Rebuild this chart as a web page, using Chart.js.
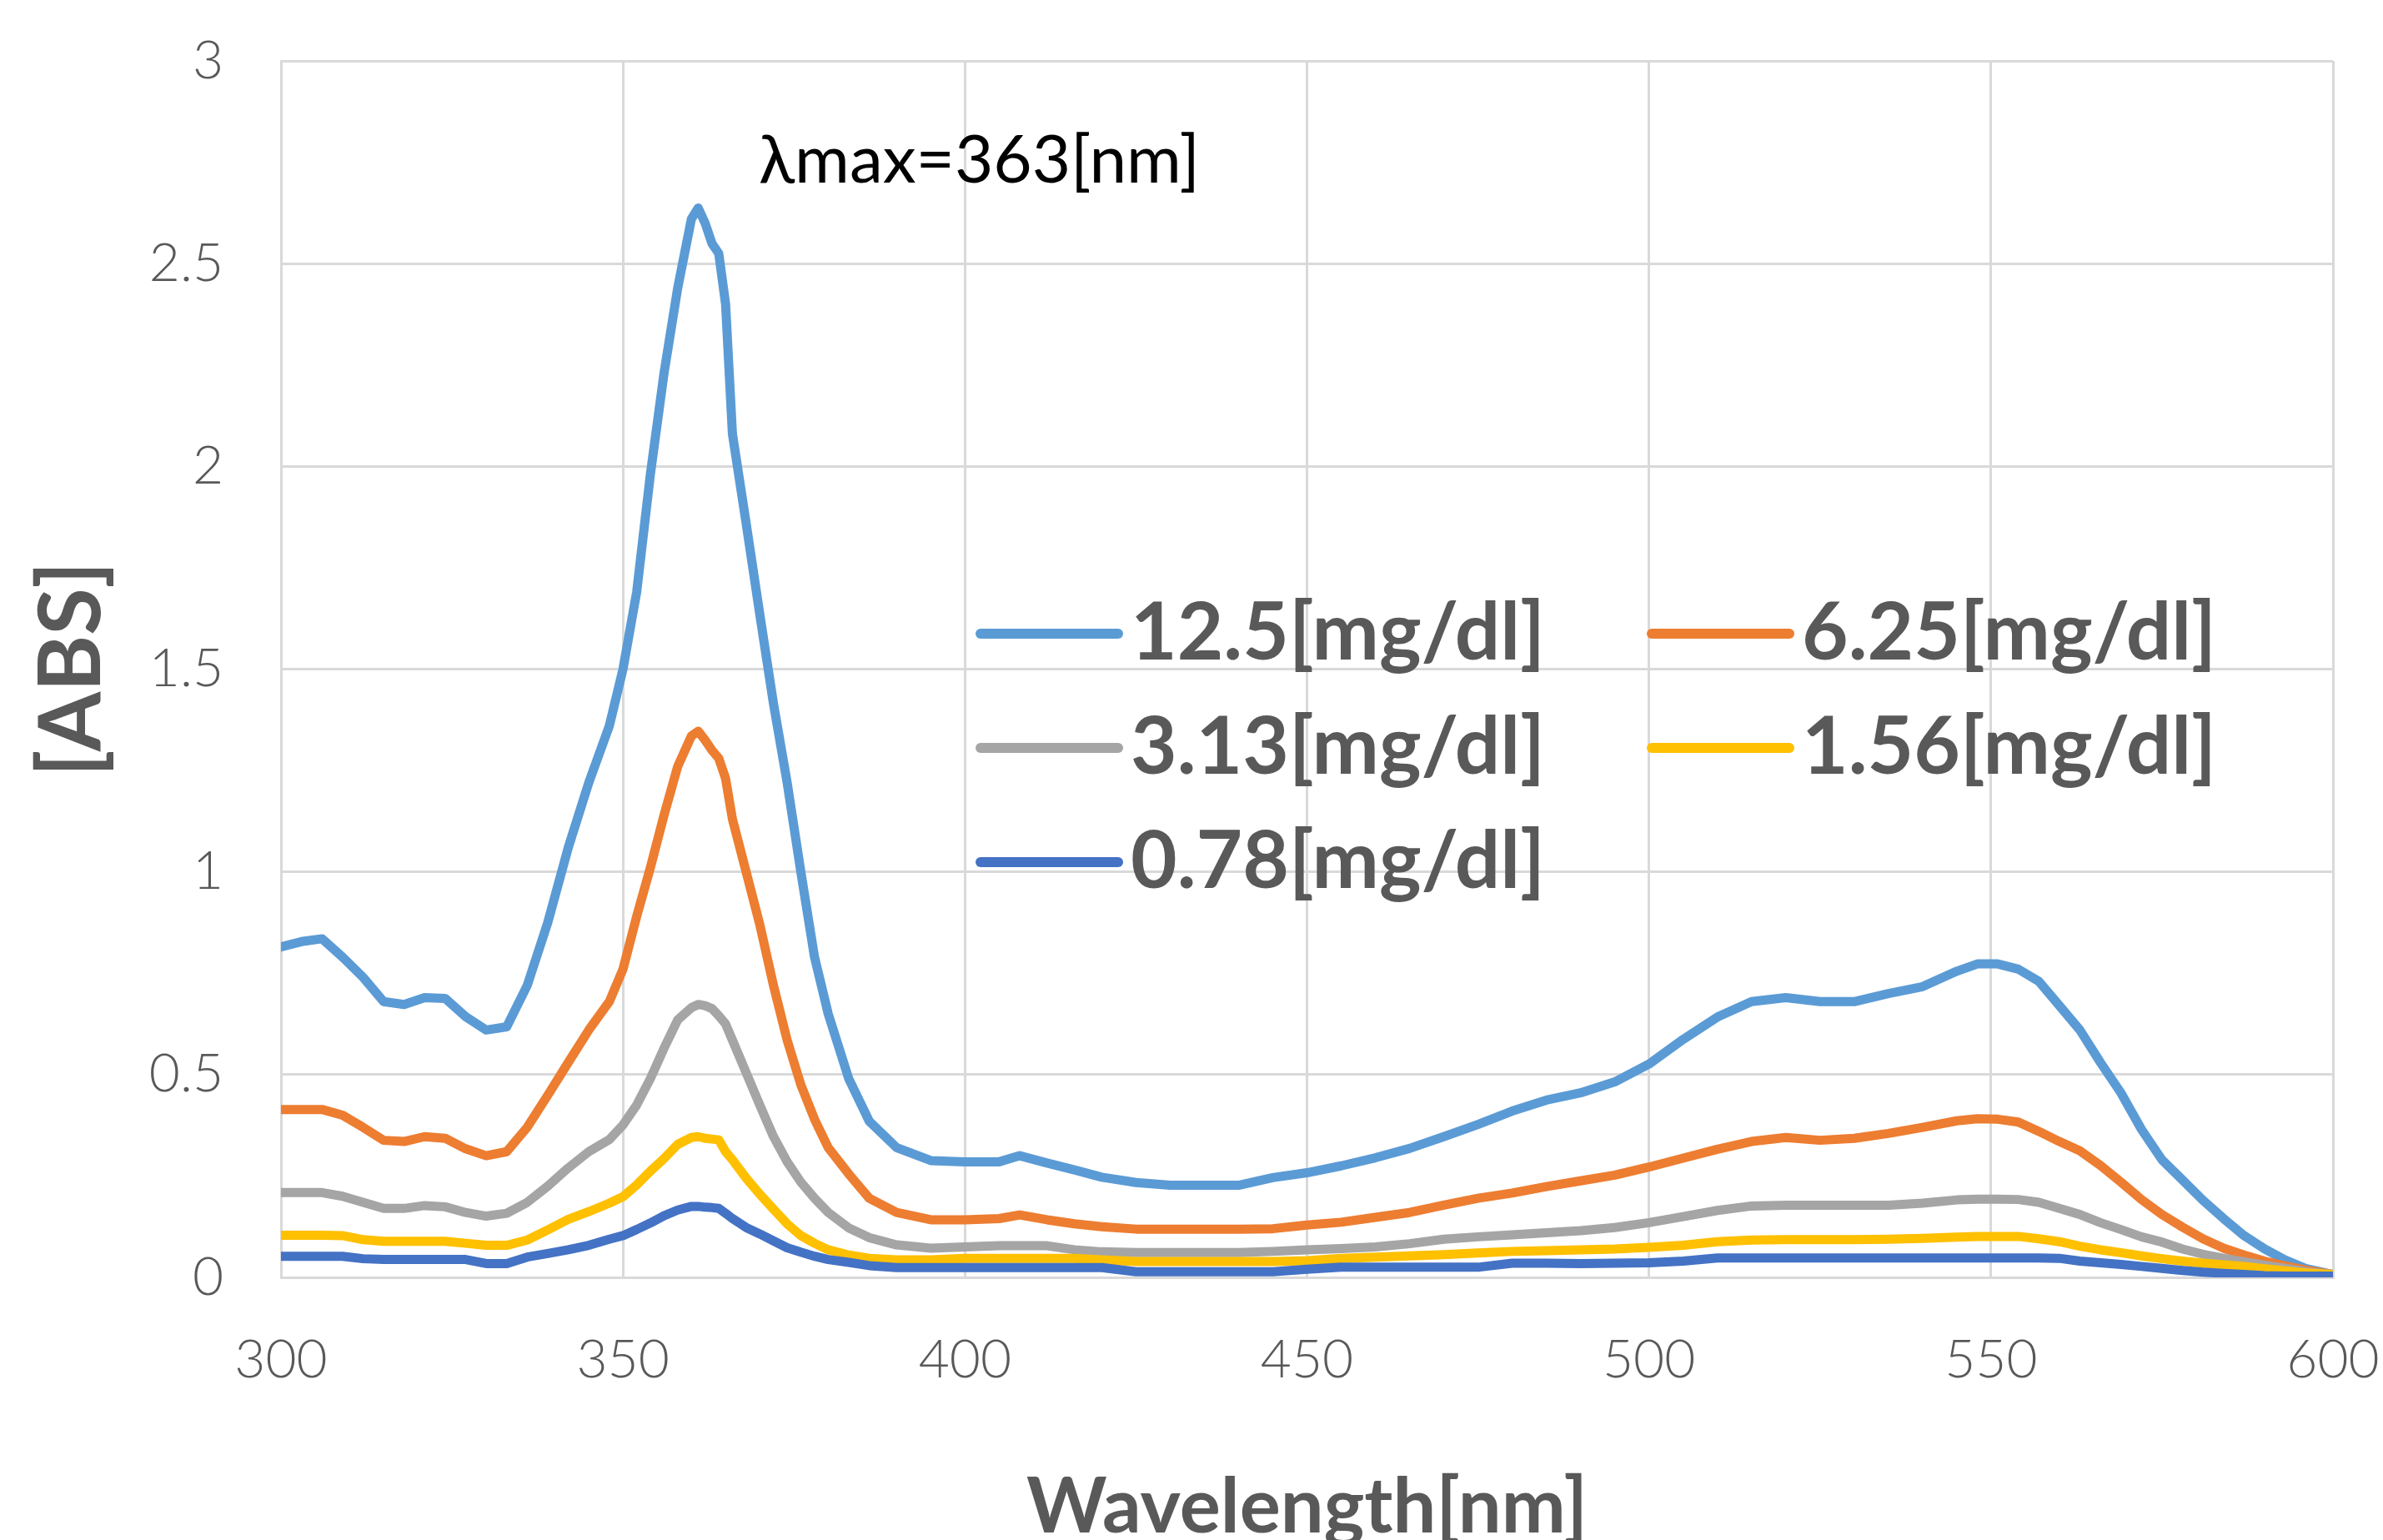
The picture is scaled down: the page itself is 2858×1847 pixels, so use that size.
<!DOCTYPE html>
<html>
<head>
<meta charset="utf-8">
<title>Absorption spectra</title>
<script src="https://cdn.jsdelivr.net/npm/chart.js@4.4.1/dist/chart.umd.min.js"></script>
<style>
  html, body { margin: 0; padding: 0; background: #fff; }
  #wrap { width: 2858px; height: 1847px; }
</style>
</head>
<body>
<div id="wrap"><canvas id="absChart" width="2858" height="1847"></canvas></div>
<script>
// wavelength [nm]
const wavelengths = [300, 303, 306, 309, 312, 315, 318, 321, 324, 327, 330, 333, 336, 339, 342, 345, 348,
    350, 352, 354, 356, 358, 360, 361, 362, 363, 364, 365, 366, 368, 370, 372, 374, 376, 378, 380,
    383, 386, 390, 395, 400, 405, 408, 412, 416, 420,
    425, 430, 435, 440, 445, 450, 455, 460, 465, 470, 475, 480, 485, 490, 495, 500, 505, 510, 515, 520, 525, 530, 535, 540, 545,
    548, 551, 554, 557, 560, 563, 566, 569, 572, 575, 578, 581, 584, 587, 590, 593, 596, 600];

// absorbance per concentration
const abs125 = [0.815, 0.828, 0.835, 0.79, 0.74, 0.68, 0.673, 0.69, 0.688, 0.643, 0.61, 0.618, 0.72, 0.875, 1.06, 1.22, 1.36,
    1.50, 1.69, 1.98, 2.23, 2.44, 2.61, 2.637, 2.60, 2.55, 2.525, 2.40, 2.08, 1.86, 1.635, 1.415, 1.22, 1.00, 0.79, 0.65,
    0.49, 0.385, 0.32, 0.288, 0.285, 0.285, 0.30, 0.282, 0.265, 0.247,
    0.234, 0.227, 0.227, 0.227, 0.246, 0.258, 0.275, 0.295, 0.318, 0.347, 0.377, 0.41, 0.437, 0.455, 0.482, 0.526, 0.587, 0.642, 0.68, 0.69, 0.68, 0.68, 0.70, 0.717, 0.755,
    0.773, 0.773, 0.76, 0.73, 0.67, 0.61, 0.53, 0.455, 0.365, 0.29, 0.24, 0.19, 0.145, 0.103, 0.07, 0.043, 0.022, 0.007];
const abs625 = [0.414, 0.414, 0.414, 0.40, 0.37, 0.338, 0.335, 0.347, 0.343, 0.317, 0.30, 0.31, 0.37, 0.449, 0.53, 0.61, 0.68,
    0.76, 0.89, 1.01, 1.14, 1.26, 1.335, 1.347, 1.325, 1.30, 1.28, 1.23, 1.13, 1.00, 0.87, 0.72, 0.585, 0.475, 0.39, 0.32,
    0.255, 0.195, 0.16, 0.142, 0.142, 0.145, 0.154, 0.142, 0.132, 0.125,
    0.119, 0.119, 0.119, 0.119, 0.12, 0.129, 0.136, 0.148, 0.16, 0.178, 0.195, 0.208, 0.224, 0.238, 0.252, 0.272, 0.294, 0.316, 0.335, 0.345, 0.338, 0.343, 0.355, 0.37, 0.386,
    0.391, 0.39, 0.383, 0.36, 0.335, 0.312, 0.276, 0.235, 0.192, 0.155, 0.124, 0.095, 0.072, 0.055, 0.04, 0.028, 0.018, 0.007];
const abs313 = [0.209, 0.209, 0.209, 0.20, 0.185, 0.17, 0.17, 0.177, 0.174, 0.16, 0.151, 0.158, 0.185, 0.225, 0.27, 0.31, 0.34,
    0.376, 0.425, 0.49, 0.565, 0.635, 0.665, 0.673, 0.67, 0.663, 0.645, 0.625, 0.585, 0.505, 0.425, 0.347, 0.285, 0.235, 0.195, 0.16,
    0.122, 0.098, 0.08, 0.072, 0.075, 0.078, 0.078, 0.078, 0.068, 0.063,
    0.061, 0.061, 0.061, 0.061, 0.064, 0.068, 0.071, 0.075, 0.083, 0.094, 0.10, 0.105, 0.11, 0.115, 0.123, 0.135, 0.15, 0.165, 0.176, 0.178, 0.178, 0.178, 0.178, 0.183, 0.191,
    0.193, 0.193, 0.192, 0.185, 0.17, 0.155, 0.135, 0.118, 0.10, 0.087, 0.07, 0.057, 0.047, 0.038, 0.03, 0.022, 0.014, 0.007];
const abs156 = [0.104, 0.104, 0.104, 0.103, 0.093, 0.089, 0.089, 0.089, 0.089, 0.084, 0.079, 0.079, 0.092, 0.117, 0.143, 0.162, 0.183,
    0.199, 0.228, 0.262, 0.293, 0.328, 0.345, 0.347, 0.343, 0.341, 0.339, 0.31, 0.29, 0.245, 0.205, 0.168, 0.132, 0.103, 0.084, 0.068,
    0.055, 0.047, 0.043, 0.043, 0.047, 0.047, 0.047, 0.047, 0.047, 0.043,
    0.039, 0.039, 0.039, 0.039, 0.039, 0.041, 0.047, 0.05, 0.053, 0.056, 0.06, 0.064, 0.066, 0.068, 0.07, 0.074, 0.079, 0.088, 0.092, 0.093, 0.093, 0.093, 0.094, 0.096, 0.099,
    0.101, 0.101, 0.101, 0.095, 0.088, 0.077, 0.068, 0.061, 0.053, 0.046, 0.04, 0.035, 0.031, 0.027, 0.021, 0.016, 0.011, 0.007];
const abs078 = [0.052, 0.052, 0.052, 0.052, 0.046, 0.044, 0.044, 0.044, 0.044, 0.044, 0.034, 0.034, 0.05, 0.059, 0.068, 0.079, 0.094,
    0.103, 0.118, 0.134, 0.152, 0.166, 0.175, 0.175, 0.173, 0.172, 0.17, 0.158, 0.145, 0.123, 0.107, 0.09, 0.073, 0.062, 0.052, 0.044,
    0.037, 0.029, 0.024, 0.024, 0.024, 0.024, 0.024, 0.024, 0.024, 0.024,
    0.014, 0.014, 0.014, 0.014, 0.014, 0.02, 0.025, 0.025, 0.025, 0.025, 0.025, 0.035, 0.035, 0.034, 0.035, 0.036, 0.04, 0.048, 0.048, 0.048, 0.048, 0.048, 0.048, 0.048, 0.048,
    0.048, 0.048, 0.048, 0.048, 0.047, 0.04, 0.036, 0.032, 0.027, 0.022, 0.017, 0.013, 0.01, 0.007, 0.004, 0.003, 0.003, 0.003];

const seriesLabels = ['12.5[mg/dl]', '6.25[mg/dl]', '3.13[mg/dl]', '1.56[mg/dl]', '0.78[mg/dl]'];
const seriesColors = ['#5b9bd5', '#ed7d31', '#a5a5a5', '#ffc000', '#4472c4'];
const seriesValues = [abs125, abs625, abs313, abs156, abs078];

const xTicks = { min: 300, max: 600, step: 50 };
const yTicks = { min: 0, max: 3, step: 0.5 };
const noteText = 'λmax=363[nm]';

const toPoints = values => wavelengths.map((w, i) => ({ x: w, y: values[i] }));

// legend inside the plot (two columns) + the λmax note
const insideLabels = {
    id: 'insideLabels',
    afterDatasetsDraw(chart) {
        const ctx = chart.ctx;
        const area = chart.chartArea;
        ctx.save();
        chart.data.datasets.forEach((ds, i) => {
            const col = i % 2;
            const row = Math.floor(i / 2);
            const x0 = area.left + (col === 0 ? 839 : 1644);
            const y = area.top + 687 + row * 137;
            ctx.strokeStyle = ds.borderColor;
            ctx.lineWidth = 12;
            ctx.lineCap = 'round';
            ctx.beginPath();
            ctx.moveTo(x0, y);
            ctx.lineTo(x0 + 165, y);
            ctx.stroke();
            ctx.fillStyle = '#595959';
            ctx.font = 'bold 96px Lato';
            ctx.textAlign = 'left';
            ctx.textBaseline = 'middle';
            ctx.fillText(ds.label, x0 + 180, y);
        });
        ctx.fillStyle = '#000';
        ctx.font = '80px Lato';
        ctx.textAlign = 'left';
        ctx.textBaseline = 'middle';
        ctx.fillText(noteText, area.left + 573, area.top + 120);
        ctx.restore();
    }
};

const ctx = document.getElementById('absChart').getContext('2d');
new Chart(ctx, {
    type: 'line',
    data: {
        datasets: seriesValues.map((vals, i) => ({
            label: seriesLabels[i],
            data: toPoints(vals),
            borderColor: seriesColors[i],
            backgroundColor: seriesColors[i],
            borderWidth: 11,
            borderJoinStyle: 'round',
            borderCapStyle: 'round',
            pointRadius: 0,
            tension: 0,
            fill: false,
            order: seriesValues.length - i
        }))
    },
    options: {
        responsive: false,
        animation: false,
        devicePixelRatio: 1,
        layout: { padding: { top: 73, right: 60, left: 0, bottom: 0 } },
        scales: {
            x: {
                type: 'linear',
                min: xTicks.min,
                max: xTicks.max,
                afterFit: scale => { scale.height = 315; },
                grid: { color: '#d9d9d9', lineWidth: 3, drawTicks: true, tickLength: 58, tickColor: 'rgba(0,0,0,0)' },
                border: { color: '#d9d9d9', width: 3 },
                ticks: {
                    stepSize: xTicks.step,
                    padding: 3,
                    color: '#595959',
                    font: { family: 'Lato', size: 64, weight: '300' },
                    callback: v => String(v)
                },
                title: {
                    display: true,
                    text: 'Wavelength[nm]',
                    color: '#595959',
                    font: { family: 'Lato', size: 92, weight: 'bold', lineHeight: 0.85 },
                    padding: { top: 0, bottom: 0 }
                }
            },
            y: {
                min: yTicks.min,
                max: yTicks.max,
                afterFit: scale => { scale.width = 337; },
                grid: { color: '#d9d9d9', lineWidth: 3, drawTicks: true, tickLength: 66, tickColor: 'rgba(0,0,0,0)' },
                border: { color: '#d9d9d9', width: 3 },
                ticks: {
                    stepSize: yTicks.step,
                    padding: 3,
                    color: '#595959',
                    font: { family: 'Lato', size: 64, weight: '300' },
                    callback: v => String(v)
                },
                title: {
                    display: true,
                    text: '[ABS]',
                    color: '#595959',
                    font: { family: 'Lato', size: 103, weight: 'bold', lineHeight: 1 },
                    padding: { top: 35, bottom: 0 }
                }
            }
        },
        plugins: {
            legend: { display: false },
            tooltip: { enabled: false }
        }
    },
    plugins: [insideLabels]
});
</script>
</body>
</html>
